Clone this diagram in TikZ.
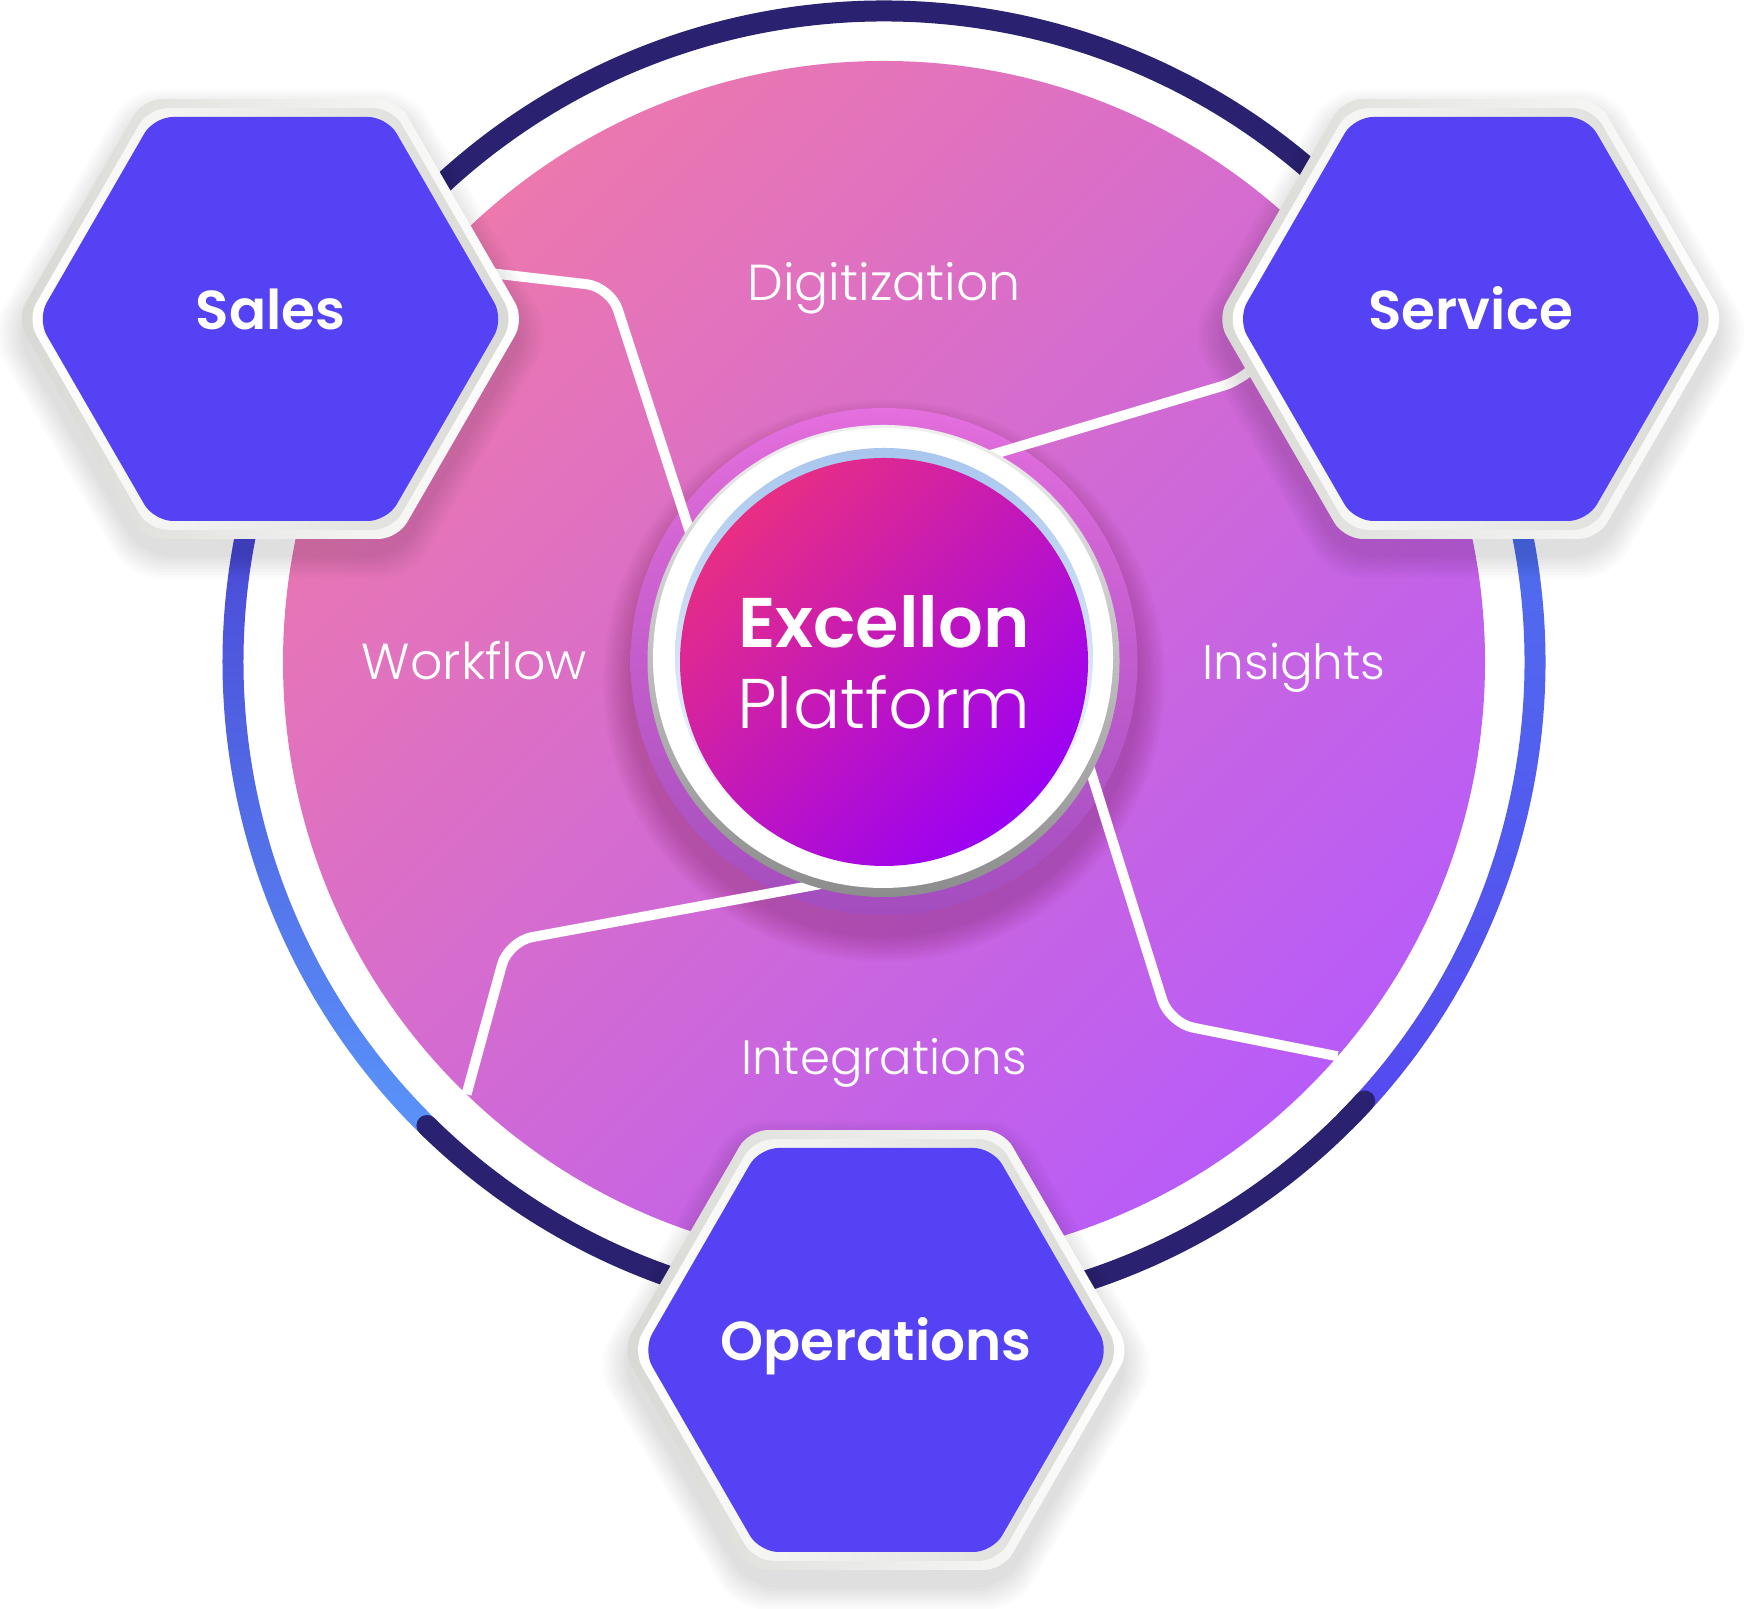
\documentclass[tikz,border=0pt]{standalone}
\usepackage{fontspec}
\setmainfont{Poppins}
\newfontfamily\lightfont{Poppins Light}
\newfontfamily\semifont{Poppins SemiBold}
\usetikzlibrary{backgrounds}
\usetikzlibrary{shapes.geometric}
\definecolor{hexblue}{HTML}{5642F5}
\definecolor{navy}{HTML}{2A2270}
\definecolor{rimgray}{HTML}{D8D8D4}
\definecolor{halotop}{HTML}{EA72E6}
\definecolor{halomiddle}{HTML}{DC68DC}
\definecolor{halobottom}{HTML}{A24EC2}
\definecolor{crescent}{HTML}{A8C6EE}
\definecolor{discstart}{HTML}{EC78AE}
\definecolor{discend}{HTML}{B85CF8}
\definecolor{hubstart}{HTML}{E82E84}
\definecolor{hubend}{HTML}{9A00F5}
\definecolor{lefttop}{HTML}{4A45D4}
\definecolor{leftbottom}{HTML}{5A94FA}
\definecolor{righttop}{HTML}{4F70EE}
\definecolor{rightbottom}{HTML}{5548F0}
\tikzset{
  hexshape/.style={regular polygon,regular polygon sides=6,inner sep=0pt,outer sep=0pt,rounded corners=.19cm},
  hexlabel/.style={text=white,anchor=base,font=\semifont\fontsize{15.6}{19}\selectfont},
  zonelabel/.style={text=white,anchor=base,font=\lightfont\fontsize{14.4}{18}\selectfont},
  connector/.style={draw=white,line width=.1cm,rounded corners=.24cm},
  ringarc/.style={draw=navy,line width=.21cm,line cap=round},
  discshape/.style={circle,inner sep=0pt,outer sep=0pt}
}

\begin{document}
\begin{tikzpicture}

  \useasboundingbox (0,0) rectangle (17.59,16.09);

  % big disc, the ring and the halo
  \begin{scope}[on background layer]
    \node [discshape,minimum size=12.02cm,left color=discstart,right color=discend,shading angle=45] (disc) at (8.84,9.47) {};
    \shade [top color=lefttop,bottom color=leftbottom] (8.84,9.47)++(165:6.615) arc (165:226:6.615)
      -- ++(46:.21) arc (226:165:6.405) -- cycle;
    \shade [top color=righttop,bottom color=rightbottom] (8.84,9.47)++(15:6.615) arc (15:-45:6.615)
      -- ++(135:.21) arc (-45:15:6.405) -- cycle;
    \draw [ringarc] (8.84,9.47)++(140:6.51) arc (140:42:6.51);
    \draw [ringarc] (8.84,9.47)++(-42.4:6.51) arc (-42.4:-77:6.51);
    \draw [ringarc] (8.84,9.47)++(225.4:6.51) arc (225.4:255:6.51);
    \foreach \i in {1,...,10}
      \node [discshape,fill=black!60!purple,fill opacity=.025,minimum size={(5.07+\i*.055)*1cm}] (hubshadow\i) at (8.84,9.28) {};
    \node [discshape,top color=halotop,middle color=halomiddle,bottom color=halobottom,fill opacity=.85,minimum size=5.07cm] (halo) at (8.84,9.475) {};
  \end{scope}

  % the centre
  \node [discshape,top color=gray!12,bottom color=gray!90,minimum size=4.72cm] (hubedge) at (8.835,9.48) {};
  \node [discshape,fill=white,minimum size=4.6cm] (hubrim) at (8.83,9.51) {};
  \node [discshape,top color=crescent,middle color=white,bottom color=white,minimum size=4.18cm] (crescentdisc) at (8.84,9.52) {};
  \node [discshape,left color=hubstart,right color=hubend,shading angle=45,minimum size=4.08cm] (hub) at (8.84,9.47) {};
  \node [text=white,anchor=base,font=\semifont\fontsize{20}{24}\selectfont] (hubtop) at (8.84,9.61) {Excellon};
  \node [text=white,anchor=base,font=\lightfont\fontsize{20}{24}\selectfont] (hubbottom) at (8.84,8.80) {Platform};

  % the three hexagons
  \foreach \hexname/\hexx/\hexy/\hextext in {sales/2.705/12.90/Sales,service/14.707/12.90/Service,operations/8.76/2.59/Operations}
  {
    \foreach \i in {1,...,8}
      \node [hexshape,fill=black,fill opacity=.016,rounded corners=.3cm,minimum size={(5.08+\i*.07)*1cm}] (\hexname shadow\i) at (\hexx,{\hexy-.15}) {};
    \node [hexshape,left color=rimgray,right color=white,minimum size=5.08cm] (\hexname outer) at (\hexx,\hexy) {};
    \node [hexshape,left color=white,right color=rimgray,minimum size=4.87cm] (\hexname inner) at (\hexx,\hexy) {};
    \node [hexshape,fill=hexblue,minimum size=4.665cm] (\hexname) at (\hexx,\hexy) {};
    \node [hexlabel] (\hexname label) at (\hexx,{\hexy-.11}) {\hextext};
  }

  % connectors, above the halo and below the rest
  \begin{scope}[on background layer]
    \coordinate (salesbend) at (6.105,13.22);
    \coordinate (servicebend) at (12.46,12.30);
    \coordinate (insightsbend) at (11.695,5.86);
    \coordinate (workflowbend) at (5.083,6.675);
    \draw [connector] (sales.13.5) -- (salesbend) -- (hubrim.147);
    \draw [connector] (service.191) -- (servicebend) -- (hubrim.62.3);
    \draw [connector] (hubrim.-27.5) -- (insightsbend) -- (disc.-41.1);
    \draw [connector] (hubrim.257) -- (workflowbend) -- (disc.226.1);
  \end{scope}

  \node [zonelabel] (digitization) at (8.84,13.08) {Digitization};
  \node [zonelabel] (workflow) at (4.745,9.29) {Workflow};
  \node [zonelabel,font=\lightfont\fontsize{13.8}{18}\selectfont] (insights) at (12.94,9.29) {Insights};
  \node [zonelabel,font=\lightfont\fontsize{13.7}{18}\selectfont] (integrations) at (8.84,5.34) {Integrations};

\end{tikzpicture}
\end{document}
